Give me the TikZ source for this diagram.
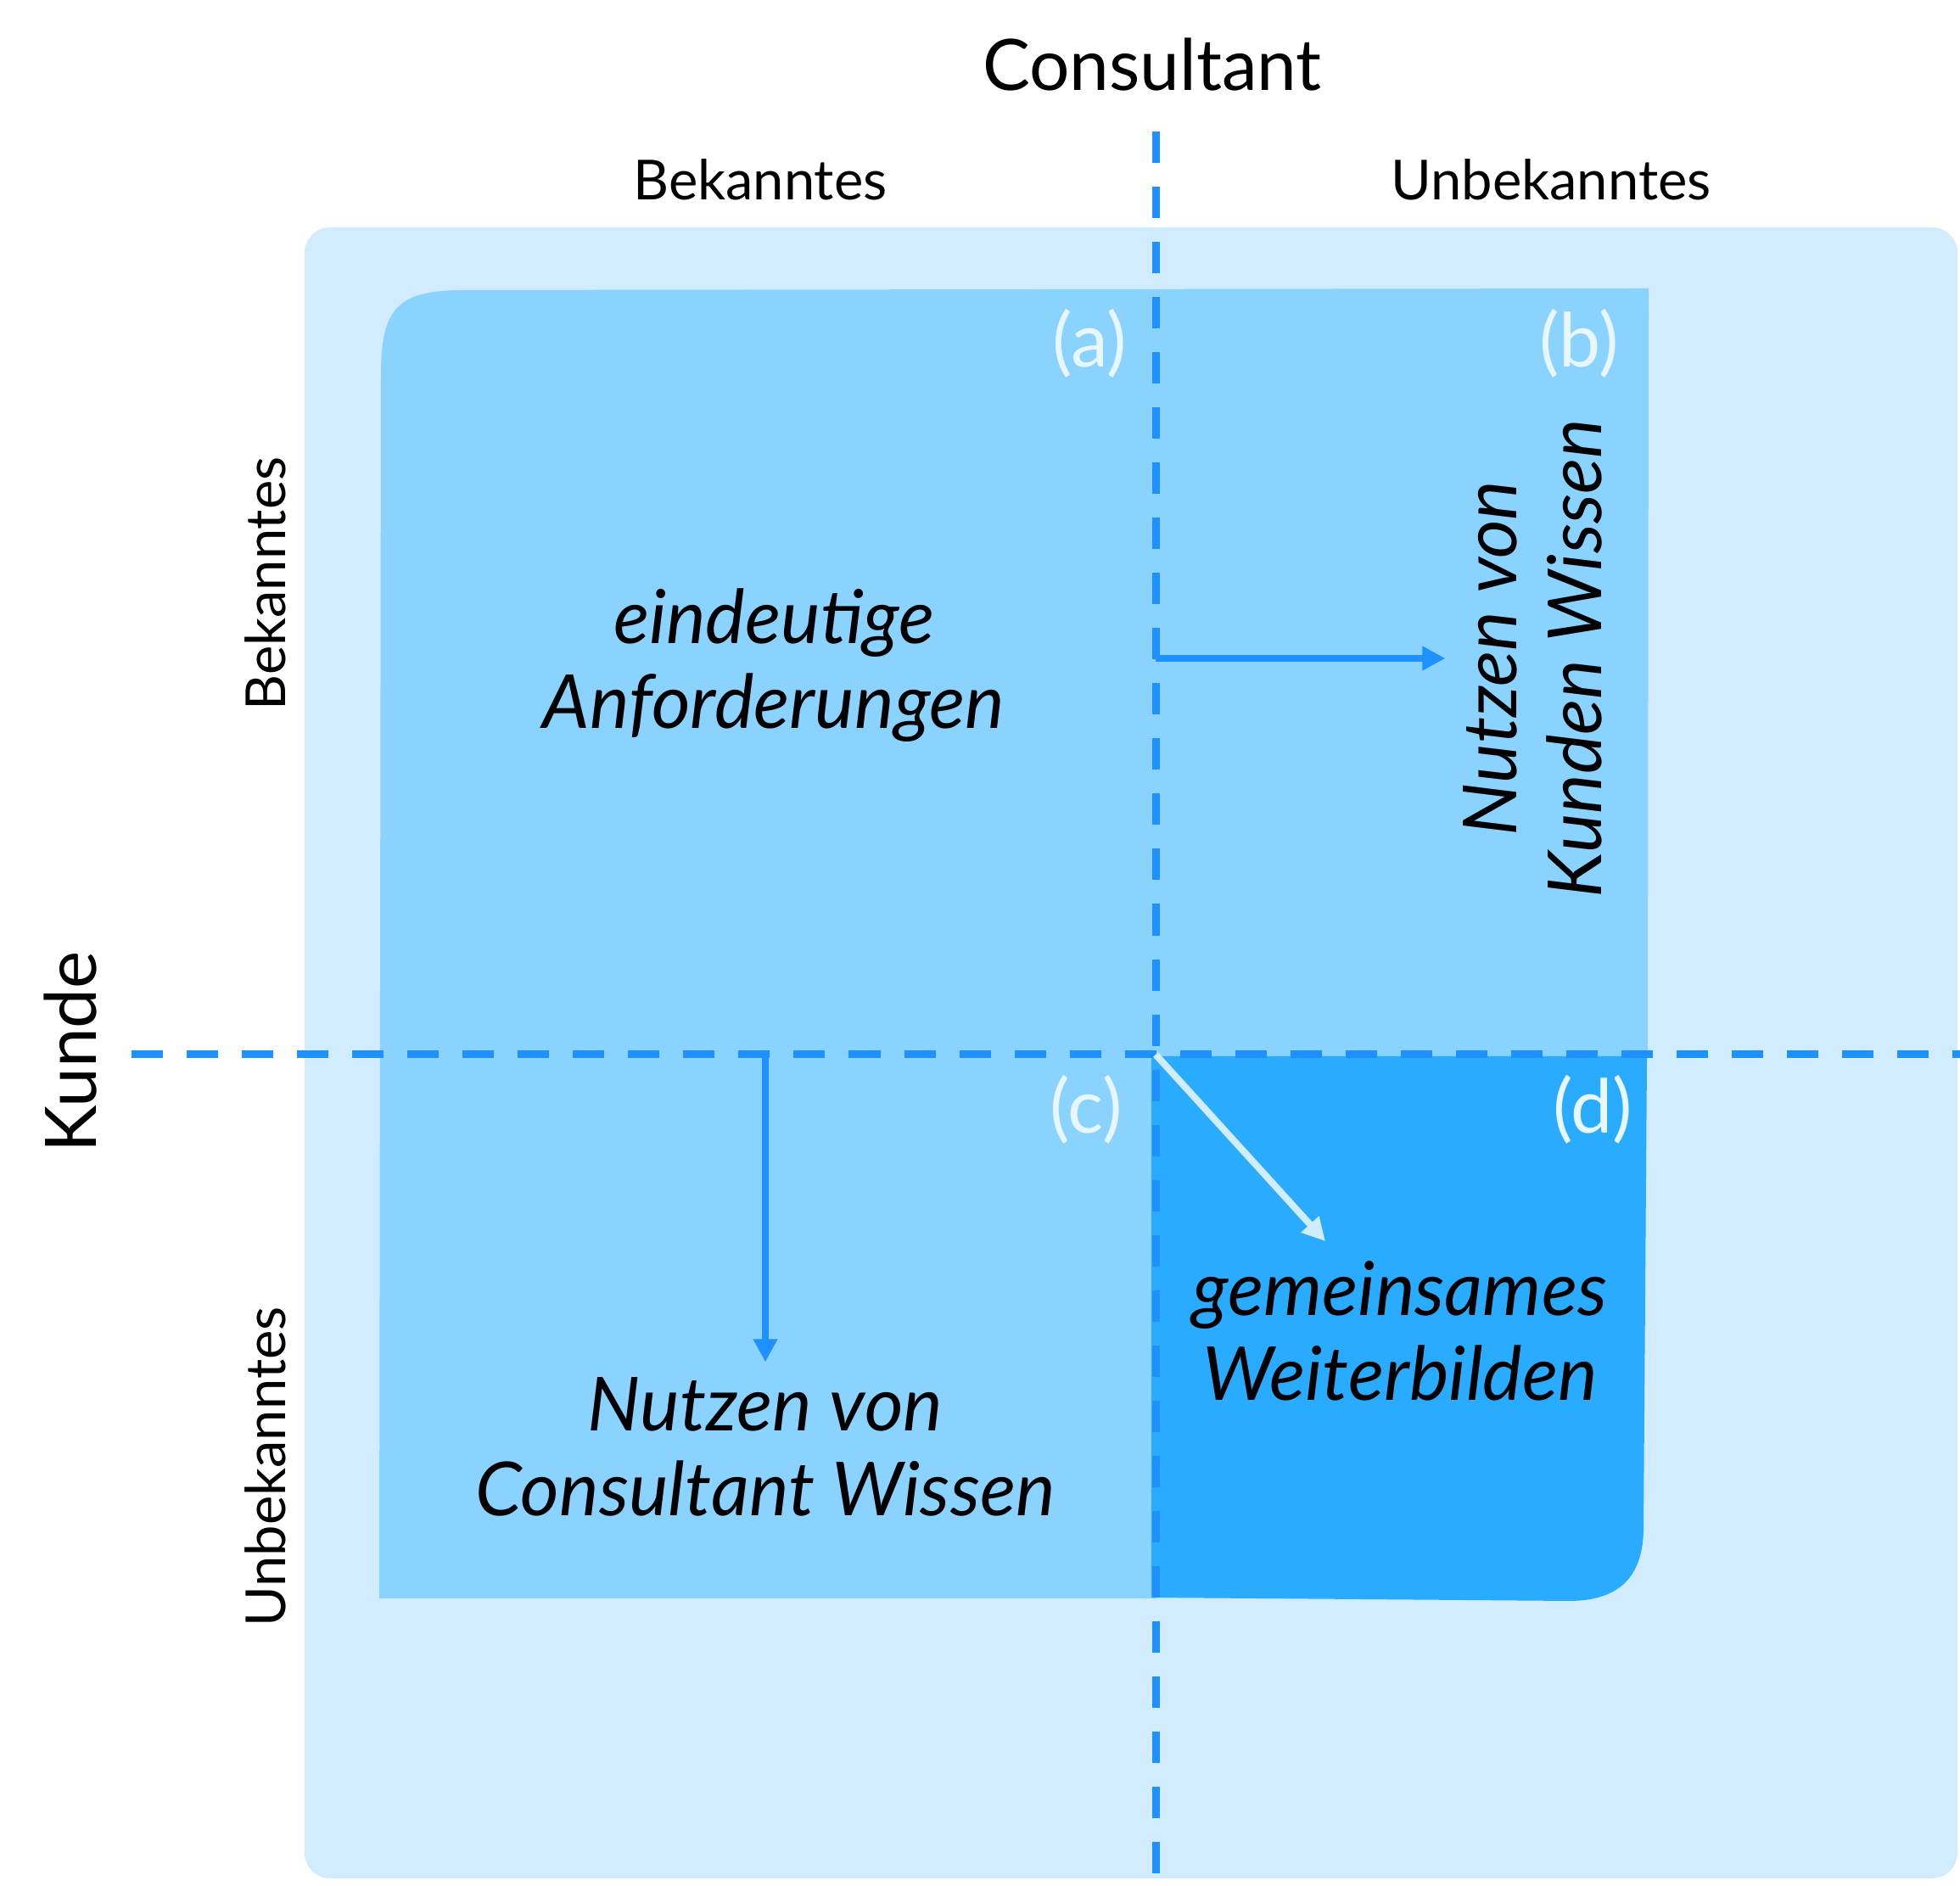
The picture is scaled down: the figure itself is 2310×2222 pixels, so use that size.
\documentclass[tikz,border=0pt]{standalone}
\usepackage{fontspec}
\setmainfont{Lato}
\usetikzlibrary{arrows.meta}
\definecolor{paleblue}{RGB}{208,236,254}
\definecolor{midblue}{RGB}{138,210,255}
\definecolor{deepblue}{RGB}{41,171,255}
\definecolor{lineblue}{RGB}{30,144,255}
\definecolor{tagwhite}{RGB}{232,246,255}

\begin{document}
\begin{tikzpicture}[x=0.01cm, y=0.01cm, >={Triangle[length=0.27cm, width=0.27cm]},
	axis/.style={lineblue, line width=0.09cm, dash pattern=on 0.37cm off 0.28cm},
	flow/.style={->, lineblue, line width=0.08cm},
	head/.style={font=\fontsize{23.8}{28}\selectfont, inner sep=0pt},
	side/.style={font=\fontsize{18.5}{22}\selectfont, inner sep=0pt},
	tag/.style={tagwhite, font=\fontsize{25}{28}\selectfont, inner sep=0pt},
	field/.style={align=center, inner sep=0pt, font=\itshape\fontsize{25}{28.5}\selectfont}]
	\useasboundingbox (0,0) rectangle (2310,2222);
	% quadrant backgrounds
	\fill[paleblue, rounded corners=0.3cm] (359,8) rectangle (2307,1954);
	\fill[midblue] (447,338) -- (449,1780) .. controls (449,1860) and (469,1880) .. (549,1880) -- (1943,1882) -- (1942,975) -- (1362,975) -- (1362,338) -- cycle;
	\fill[deepblue] (1357,977) -- (1941,977) -- (1937,422) .. controls (1937,362) and (1907,335) .. (1849,335) -- (1357,339) -- cycle;
	% axes
	\coordinate (vtop) at (1362,2067);
	\coordinate (vbot) at (1362,5);
	\coordinate (hleft) at (155,979);
	\coordinate (hright) at (2310,979);
	\coordinate (cross) at (1362,979);
	\draw[axis] (vtop) -- (vbot);
	\draw[axis] (hleft) -- (hright);
	% axis labels
	\node[head, anchor=base] (consultant) at (1358,2115) {Consultant};
	\node[head, anchor=base, rotate=90] (kunde) at (113,982) {Kunde};
	\node[side, anchor=base] (cbek) at (896,1986) {Bekanntes};
	\node[side, anchor=base] (cunb) at (1828,1986) {Unbekanntes};
	\node[side, anchor=base, rotate=90] (kbek) at (336,1534) {Bekanntes};
	\node[side, anchor=base, rotate=90] (kunb) at (336,493) {Unbekanntes};
	\foreach \n/\x/\y in {a/1284/1817, b/1861/1817, c/1280/914, d/1877/914} {\node[tag] (tag\n) at (\x,\y) {(\n)};}
	% quadrant texts
	\node[field] (ea) at (912,1438) {eindeutige\\Anforderungen};
	\node[field, rotate=90] (kw) at (1806,1446) {Nutzen von\\Kunden Wissen};
	\node[field] (cw) at (902,517) {Nutzen von\\Consultant Wissen};
	\node[field] (gw) at (1650,653) {gemeinsames\\Weiterbilden};
	% arrows
	\coordinate (wtip) at (1562,759);
	\draw[flow, shorten >=0.2cm] (cross |- kw.north) -- (kw.north);
	\draw[flow, shorten >=0.17cm] (cross -| cw.north) -- (cw.north);
	\draw[flow, paleblue] (cross) -- (wtip);
\end{tikzpicture}
\end{document}
